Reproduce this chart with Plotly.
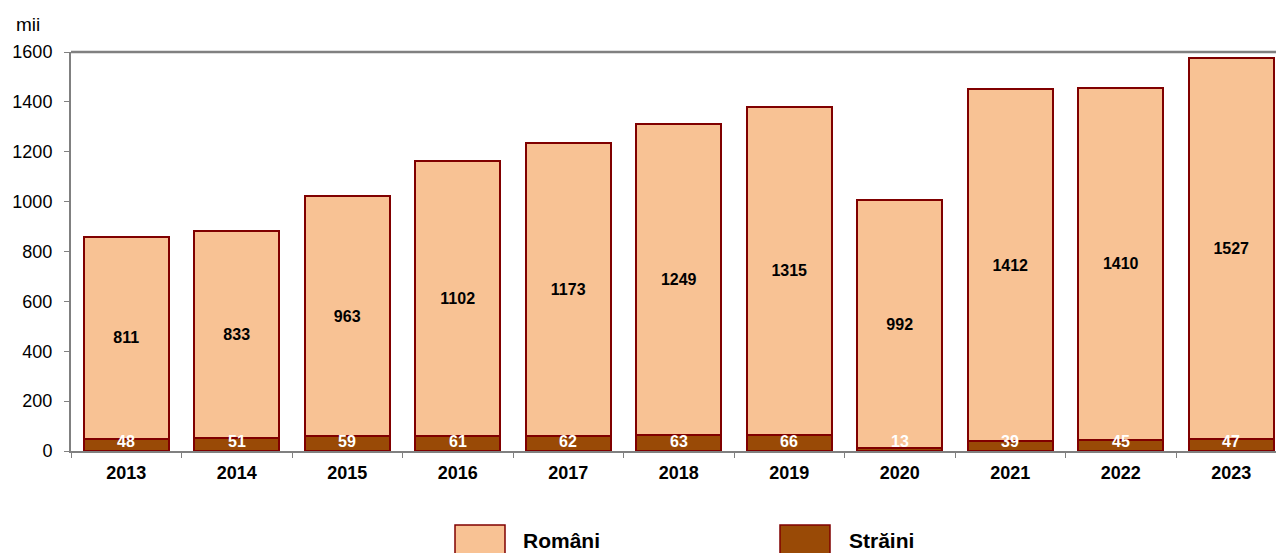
import plotly.graph_objects as go

years = ["2013", "2014", "2015", "2016", "2017", "2018", "2019", "2020", "2021", "2022", "2023"]
romani = [811, 833, 963, 1102, 1173, 1249, 1315, 992, 1412, 1410, 1527]
straini = [48, 51, 59, 61, 62, 63, 66, 13, 39, 45, 47]
y_ticks = [0, 200, 400, 600, 800, 1000, 1200, 1400, 1600]

PINK = "#F8C294"
BROWN = "#994A06"
EDGE = "#800000"
AXIS = "#808080"
FONT = "Liberation Sans, Arial, sans-serif"

# page body has an 8px margin; figure sized so the plot area lands where the reference has it
W, H = 1268, 545
OX, OY = 8, 8
PL, PT, PR, PB = 71, 52, 1276, 451  # plot area in window pixels
STEP = 110.5  # px per category

fig = go.Figure()
fig.add_trace(go.Bar(
    x=years, y=straini, name="Străini",
    marker=dict(color=BROWN, line=dict(color=EDGE, width=2)),
    width=0.77, showlegend=False, hoverinfo="y",
))
fig.add_trace(go.Bar(
    x=years, y=romani, name="Români",
    marker=dict(color=PINK, line=dict(color=EDGE, width=2)),
    width=0.77, text=[str(v) for v in romani],
    textposition="inside", insidetextanchor="middle", textangle=0,
    textfont=dict(family=FONT, size=16, color="black", weight="bold"),
    showlegend=False, hoverinfo="y",
))

for i, v in enumerate(straini):
    fig.add_annotation(
        x=i, y=0, xref="x", yref="y", text=str(v), showarrow=False,
        yanchor="bottom", yshift=-1,
        font=dict(family=FONT, size=16, color="white", weight="bold"),
    )

def px_x(px):
    return (px - PL) / (PR - PL)

def px_y(py):
    return (PB - py) / (PB - PT)

# "mii" unit label
fig.add_annotation(
    x=px_x(14), y=px_y(25), xref="paper", yref="paper", text="mii",
    showarrow=False, xanchor="left", yanchor="middle",
    font=dict(family=FONT, size=19, color="black"),
)

# custom legend
legend_items = [("Români", PINK, 455, 521), ("Străini", BROWN, 780, 847)]
for label, col, bx, tx in legend_items:
    fig.add_shape(
        type="rect", xref="paper", yref="paper",
        x0=px_x(bx), x1=px_x(bx + 50), y0=px_y(525), y1=px_y(560),
        fillcolor=col, line=dict(color=EDGE, width=1.5),
    )
    fig.add_annotation(
        x=px_x(tx), y=px_y(540), xref="paper", yref="paper", text=label,
        showarrow=False, xanchor="left", yanchor="middle",
        font=dict(family=FONT, size=21, color="black", weight="bold"),
    )

fig.add_shape(type="line", xref="paper", yref="paper", x0=0, x1=1, y0=1, y1=1,
              line=dict(color=AXIS, width=2.5))

fig.update_layout(
    width=W, height=H,
    margin=dict(l=PL - OX, r=OX + W - PR, t=PT - OY, b=H + OY - PB, autoexpand=False),
    barmode="stack",
    plot_bgcolor="white", paper_bgcolor="white",
    showlegend=False,
    font=dict(family=FONT, color="black"),
    xaxis=dict(
        type="category", range=[-0.5, -0.5 + (PR - PL) / STEP],
        showline=True, linecolor=AXIS, linewidth=2,
        ticks="outside", ticklen=5, tickcolor=AXIS, tickson="boundaries",
        ticklabelstandoff=4,
        tickfont=dict(family=FONT, size=18, color="black", weight="bold"),
        showgrid=False, zeroline=False,
    ),
    yaxis=dict(
        range=[0, 1600], tickvals=y_ticks,
        showline=True, linecolor=AXIS, linewidth=2,
        ticks="outside", ticklen=5, tickcolor=AXIS, ticklabelstandoff=8,
        tickfont=dict(family=FONT, size=18, color="black"),
        showgrid=False, zeroline=False,
    ),
)

fig.write_html("out.html")
